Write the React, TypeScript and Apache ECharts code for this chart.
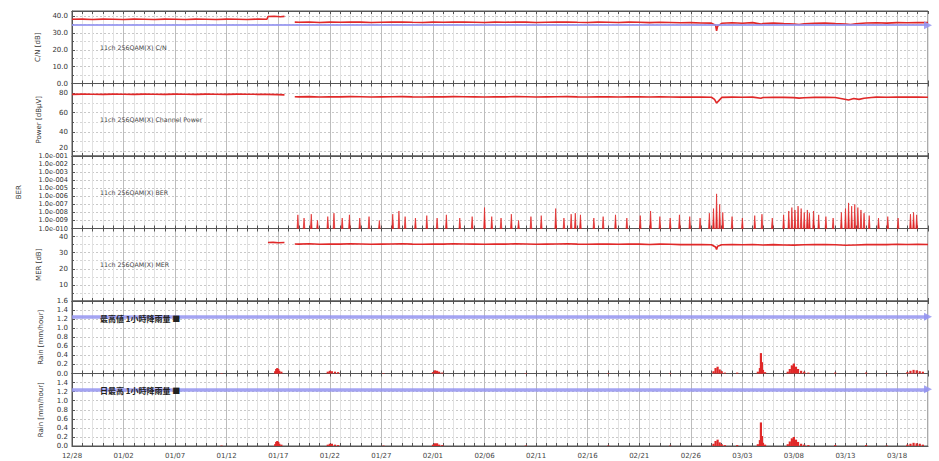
import React, { useEffect, useRef } from "react";
import * as echarts from "echarts";

// ---------- data ----------
const xTickLabels = ["12/28", "01/02", "01/07", "01/12", "01/17", "01/22", "01/27", "02/01", "02/06", "02/11", "02/16", "02/21", "02/26", "03/03", "03/08", "03/13", "03/18"];
const xMaxDay = 83;

const panelTitles = [
  "11ch 256QAM(X) C/N",
  "11ch 256QAM(X) Channel Power",
  "11ch 256QAM(X) BER",
  "11ch 256QAM(X) MER",
  "最高値 1小時降雨量 ■",
  "日最高 1小時降雨量 ■",
];
const yNames = ["C/N [dB]", "Power [dBµV]", "BER", "MER [dB]", "Rain [mm/hour]", "Rain [mm/hour]"];

const cnData: (number | string)[][] = [
  [0, 38.1], [1, 38.2], [2, 38.0], [3, 38.2], [4, 38.1], [5, 38.0], [6, 38.2], [7, 38.1], [8, 38.0], [9, 38.2],
  [10, 38.1], [11, 38.0], [12, 38.2], [13, 38.1], [14, 38.0], [15, 38.2], [16, 38.1], [17, 38.0], [18, 38.2], [18.9, 38.1],
  [19.0, 39.7], [19.6, 39.9], [20.2, 39.6], [20.6, 39.8], [20.7, "-"],
  [21.6, 36.4], [22, 36.3], [23, 36.5], [24, 36.2], [25, 36.4], [26, 36.3], [27, 36.5], [28, 36.4], [29, 36.2], [30, 36.3],
  [31, 36.4], [32, 36.5], [33, 36.3], [34, 36.2], [35, 36.4], [36, 36.3], [37, 36.5], [38, 36.4], [39, 36.3], [40, 36.2],
  [41, 36.4], [42, 36.3], [43, 36.5], [44, 36.4], [45, 36.2], [46, 36.3], [47, 36.4], [48, 36.5], [49, 36.3], [50, 36.2],
  [51, 36.4], [52, 36.3], [53, 36.2], [54, 36.4], [55, 36.3], [56, 36.1], [57, 36.3], [58, 36.2], [59, 36.0], [60, 36.1],
  [61, 35.9], [62, 35.8], [62.4, 34.6], [62.5, 31.2], [62.6, 34.0], [63, 35.7], [64, 36.0], [65, 35.7], [66, 36.1], [66.8, 35.2],
  [67, 35.6], [68, 35.8], [69, 35.5], [70, 35.3], [70.5, 35.0], [71, 35.4], [72, 35.7], [73, 35.8], [74, 35.5], [75, 35.3],
  [75.5, 35.0], [76, 35.4], [77, 35.9], [78, 36.0], [79, 35.8], [80, 36.1], [81, 36.0], [82, 36.2], [83, 36.1],
];
const cnThreshold = 34.6;

const powerData: (number | string)[][] = [
  [0, 78.8], [1, 79.0], [2, 78.9], [3, 78.8], [4, 79.0], [5, 78.9], [6, 78.8], [7, 79.0], [8, 78.9], [9, 78.8],
  [10, 79.0], [11, 78.9], [12, 78.8], [13, 79.0], [14, 78.9], [15, 78.8], [16, 79.0], [17, 78.9], [18, 78.8], [19, 78.7],
  [20, 78.5], [20.6, 78.2], [20.7, "-"],
  [21.6, 76.3], [22, 76.2], [23, 76.4], [24, 76.1], [25, 76.3], [26, 76.2], [27, 76.4], [28, 76.3], [29, 76.1], [30, 76.2],
  [31, 76.3], [32, 76.4], [33, 76.2], [34, 76.1], [35, 76.3], [36, 76.2], [37, 76.4], [38, 76.3], [39, 76.2], [40, 76.1],
  [41, 76.3], [42, 76.2], [43, 76.4], [44, 76.3], [45, 76.1], [46, 76.2], [47, 76.3], [48, 76.4], [49, 76.2], [50, 76.1],
  [51, 76.3], [52, 76.2], [53, 76.1], [54, 76.3], [55, 76.2], [56, 76.0], [57, 76.2], [58, 76.1], [59, 75.9], [60, 76.0],
  [61, 75.9], [62, 75.8], [62.3, 73.5], [62.5, 69.8], [62.7, 72.0], [63, 75.6], [64, 75.9], [65, 75.7], [66, 75.9], [66.8, 74.8],
  [67, 75.5], [68, 75.8], [69, 75.6], [70, 75.4], [70.5, 74.9], [71, 75.3], [72, 75.6], [73, 75.7], [74, 75.5], [74.8, 74.0],
  [75.3, 73.0], [75.8, 74.5], [76.3, 73.6], [76.8, 74.8], [77.5, 75.5], [78, 75.9], [79, 75.7], [80, 76.0], [81, 75.9], [82, 76.0], [83, 75.8],
];

const berTickLabels = ["1.0e-010", "1.0e-009", "1.0e-008", "1.0e-007", "1.0e-006", "1.0e-005", "1.0e-004", "1.0e-003", "1.0e-002", "1.0e-001"];
const berMinExp = -10;
const berMaxExp = -1;
const berSpikes: number[][] = [
  [21.9, 5e-9], [22.5, 2e-9], [23.2, 6e-9], [23.8, 1e-9], [24.8, 3e-9], [25.4, 8e-9], [26.2, 2e-9], [26.9, 5e-9], [27.9, 2e-9],
  [28.8, 3e-9], [29.8, 1e-9], [31.1, 6e-9], [31.7, 1.5e-8], [32.3, 3e-9], [33.3, 2e-9], [34.4, 4e-9], [35.4, 2e-9], [36.3, 5e-9],
  [37.6, 2e-9], [38.8, 3e-9], [40.0, 4e-8], [40.7, 3e-9], [41.6, 2e-9], [42.6, 6e-9], [43.3, 1e-9], [44.5, 3e-9], [45.5, 4e-9],
  [46.9, 3e-8], [47.7, 2e-9], [48.4, 6e-9], [48.8, 8e-9], [49.3, 5e-9], [50.6, 2e-9], [51.5, 3e-9], [52.7, 5e-9], [53.8, 2e-9],
  [55.1, 4e-9], [56.1, 1.5e-8], [57.0, 3e-9], [58.0, 2e-9], [58.9, 5e-9], [59.9, 3e-9], [60.9, 2e-9], [61.8, 8e-9], [62.2, 3e-8],
  [62.5, 2e-6], [62.8, 1e-7], [63.1, 1e-8], [64.0, 3e-9], [65.0, 2e-9], [66.2, 4e-9], [66.9, 6e-9], [67.9, 2e-9], [69.0, 5e-9],
  [69.5, 1.5e-8], [69.8, 4e-8], [70.1, 2e-8], [70.4, 6e-8], [70.7, 3e-8], [71.0, 1e-8], [71.3, 2e-8], [71.5, 8e-9], [71.9, 1.5e-8],
  [72.4, 5e-9], [73.1, 3e-9], [73.8, 2e-9], [74.6, 1e-8], [75.0, 3e-8], [75.3, 1.5e-7], [75.6, 6e-8], [75.9, 1e-7], [76.2, 4e-8],
  [76.5, 2e-8], [76.8, 8e-9], [77.3, 4e-9], [78.2, 2e-9], [79.1, 3e-9], [80.1, 2e-9], [81.3, 6e-9], [81.6, 1e-8], [81.9, 5e-9],
];

const merData: (number | string)[][] = [
  [19.0, 36.3], [19.5, 36.4], [20.0, 36.2], [20.6, 36.3], [20.7, "-"],
  [21.6, 35.4], [22, 35.3], [23, 35.5], [24, 35.2], [25, 35.4], [26, 35.3], [27, 35.5], [28, 35.4], [29, 35.2], [30, 35.3],
  [31, 35.4], [32, 35.5], [33, 35.3], [34, 35.2], [35, 35.4], [36, 35.3], [37, 35.5], [38, 35.4], [39, 35.3], [40, 35.2],
  [41, 35.4], [42, 35.3], [43, 35.5], [44, 35.4], [45, 35.2], [46, 35.3], [47, 35.4], [48, 35.5], [49, 35.3], [50, 35.2],
  [51, 35.4], [52, 35.3], [53, 35.2], [54, 35.4], [55, 35.3], [56, 35.1], [57, 35.3], [58, 35.2], [59, 35.0], [60, 35.1],
  [61, 35.0], [62, 34.9], [62.4, 33.5], [62.5, 32.0], [62.6, 34.0], [63, 34.9], [64, 35.1], [65, 34.9], [66, 35.1], [67, 34.8],
  [68, 35.0], [69, 34.8], [70, 34.7], [71, 34.9], [72, 35.0], [73, 35.1], [74, 34.9], [75, 34.6], [76, 34.8], [77, 35.0],
  [78, 35.1], [79, 35.0], [80, 35.2], [81, 35.1], [82, 35.2], [83, 35.1],
];

const rainThreshold = 1.25;
const rain1Data: number[][] = [
  [14.5, 0.01], [19.7, 0.05], [19.8, 0.1], [19.9, 0.12], [20.0, 0.1], [20.1, 0.06], [20.3, 0.04],
  [24.8, 0.04], [25.0, 0.06], [25.2, 0.05], [25.5, 0.04], [25.8, 0.03], [30.2, 0.01],
  [35.0, 0.03], [35.2, 0.07], [35.4, 0.06], [35.6, 0.04], [35.9, 0.02], [44.0, 0.01], [52.0, 0.01], [58.0, 0.01],
  [62.2, 0.05], [62.4, 0.12], [62.6, 0.15], [62.8, 0.09], [63.0, 0.05], [63.3, 0.02], [64.5, 0.02],
  [66.5, 0.04], [66.7, 0.12], [66.8, 0.45], [66.9, 0.25], [67.0, 0.08], [67.2, 0.03],
  [69.4, 0.04], [69.6, 0.1], [69.8, 0.18], [70.0, 0.22], [70.2, 0.15], [70.4, 0.1], [70.7, 0.06], [71.0, 0.04], [71.4, 0.02],
  [74.0, 0.02], [77.0, 0.02], [79.0, 0.01],
  [81.0, 0.03], [81.3, 0.06], [81.6, 0.08], [81.9, 0.07], [82.2, 0.05], [82.5, 0.04],
];
const rain2Data: number[][] = [
  [14.5, 0.01], [19.7, 0.04], [19.8, 0.09], [19.9, 0.11], [20.0, 0.09], [20.1, 0.05], [20.3, 0.03],
  [24.8, 0.03], [25.0, 0.05], [25.2, 0.05], [25.5, 0.03], [25.8, 0.02], [30.2, 0.01],
  [35.0, 0.03], [35.2, 0.06], [35.4, 0.06], [35.6, 0.03], [35.9, 0.02], [44.0, 0.01], [52.0, 0.01], [58.0, 0.01],
  [62.2, 0.05], [62.4, 0.11], [62.6, 0.14], [62.8, 0.08], [63.0, 0.04], [63.3, 0.02], [64.5, 0.02],
  [66.5, 0.04], [66.7, 0.13], [66.8, 0.52], [66.9, 0.22], [67.0, 0.07], [67.2, 0.03],
  [69.4, 0.04], [69.6, 0.1], [69.8, 0.17], [70.0, 0.2], [70.2, 0.14], [70.4, 0.09], [70.7, 0.05], [71.0, 0.03], [71.4, 0.02],
  [74.0, 0.02], [77.0, 0.02], [79.0, 0.01],
  [81.0, 0.03], [81.3, 0.05], [81.6, 0.07], [81.9, 0.06], [82.2, 0.05], [82.5, 0.03],
];

// ---------- layout / style ----------
const W = 939;
const H = 461;
const gridLeft = 72;
const gridRight = 11;
const gridTop0 = 11;
const panelH = 72.5;
const RED = "#e02828";
const BLUE = "#9494f0";
const AXIS = "#555";
const FONT = "DejaVu Sans";

export default function App() {
  const ref = useRef<HTMLDivElement>(null);

  useEffect(() => {
    if (!ref.current) return;
    const chart = echarts.init(ref.current, undefined, { renderer: "svg" });

    const grids = [0, 1, 2, 3, 4, 5].map((i) => ({
      left: gridLeft,
      right: gridRight,
      top: gridTop0 + i * panelH,
      height: panelH,
      show: true,
      borderColor: AXIS,
      borderWidth: 1,
    }));

    const xAxes: any[] = [];
    for (let i = 0; i < 6; i++) {
      xAxes.push({
        gridIndex: i,
        type: "value",
        min: 0,
        max: xMaxDay,
        interval: 1,
        position: "bottom",
        axisLine: { show: true, lineStyle: { color: AXIS, width: 1.2 } },
        axisTick: { show: true, inside: true, length: 3, lineStyle: { color: AXIS } },
        splitLine: {
          show: true,
          lineStyle: { color: ["#bdbdbd", "#e2e2e2", "#e2e2e2", "#e2e2e2", "#e2e2e2"], width: 1 },
        },
        axisLabel: {
          show: i === 5,
          fontSize: 7,
          fontFamily: FONT,
          color: "#444",
          margin: 6,
          showMaxLabel: false,
          formatter: (v: number) => (v % 5 === 0 && xTickLabels[v / 5] ? xTickLabels[v / 5] : ""),
        },
      });
      xAxes.push({
        gridIndex: i,
        type: "value",
        min: 0,
        max: xMaxDay,
        interval: 1,
        position: "top",
        axisLine: { show: true, lineStyle: { color: AXIS, width: 1.2 } },
        axisTick: { show: true, inside: true, length: 3, lineStyle: { color: AXIS } },
        splitLine: { show: false },
        axisLabel: { show: false },
      });
    }

    const lbl = (extra: any) => ({ fontSize: 7, fontFamily: FONT, color: "#333", margin: 4, ...extra });

    const yBase = (i: number, extra: any) => ({
      gridIndex: i,
      type: "value",
      name: yNames[i],
      nameLocation: "middle",
      nameGap: 30,
      nameTextStyle: { fontSize: 7, fontFamily: FONT, color: "#333" },
      axisLine: { show: true, lineStyle: { color: AXIS } },
      axisTick: { show: true, inside: true, length: 3, lineStyle: { color: AXIS } },
      splitLine: { show: true, lineStyle: { color: "#c8c8c8", type: [2, 2] } },
      axisLabel: lbl({}),
      ...extra,
    });

    const yAxes = [
      yBase(0, {
        min: 0, max: 43, interval: 10,
        axisLabel: lbl({ showMaxLabel: false, formatter: (v: number) => v.toFixed(1) }),
        minorTick: { show: true, splitNumber: 2, length: 2 },
        minorSplitLine: { show: true, lineStyle: { color: "#d6d6d6", type: [2, 2] } },
      }),
      yBase(1, {
        min: 15, max: 90, splitNumber: 4,
        axisLabel: lbl({
          showMaxLabel: false,
          showMinLabel: false,
          formatter: (v: number) => (v === 20 ? "{up|20}" : String(v)),
          rich: { up: { fontSize: 7, fontFamily: FONT, color: "#333", padding: [0, 0, 7, 0] } },
        }),
        minorTick: { show: true, splitNumber: 2, length: 2 },
        minorSplitLine: { show: true, lineStyle: { color: "#d6d6d6", type: [2, 2] } },
      }),
      yBase(2, {
        min: berMinExp, max: berMaxExp, interval: 1, nameGap: 50,
        axisLabel: lbl({
          fontSize: 6.6,
          showMaxLabel: true,
          showMinLabel: true,
          formatter: (v: number) => berTickLabels[Math.round(v) - berMinExp],
        }),
      }),
      yBase(3, {
        min: 0, max: 45, interval: 10,
        axisLabel: lbl({ showMaxLabel: false, showMinLabel: false }),
        minorTick: { show: true, splitNumber: 2, length: 2 },
        minorSplitLine: { show: true, lineStyle: { color: "#d6d6d6", type: [2, 2] } },
      }),
      yBase(4, {
        min: 0, max: 1.6, interval: 0.2, nameGap: 28,
        axisLabel: lbl({ showMaxLabel: true, formatter: (v: number) => v.toFixed(1) }),
      }),
      yBase(5, {
        min: 0, max: 1.6, interval: 0.2, nameGap: 28,
        axisLabel: lbl({ showMaxLabel: false, formatter: (v: number) => v.toFixed(1) }),
      }),
    ];

    const threshold = (value: number, width: number) => ({
      silent: true,
      symbol: ["none", "triangle"],
      symbolSize: 8,
      label: { show: false },
      lineStyle: { color: BLUE, width, type: "solid", opacity: 0.85 },
      itemStyle: { color: BLUE },
      data: [{ yAxis: value }],
    });

    const lineSeries = (idx: number, data: any[], extra: any = {}) => ({
      type: "line",
      xAxisIndex: idx * 2,
      yAxisIndex: idx,
      data,
      showSymbol: false,
      symbol: "none",
      connectNulls: false,
      lineStyle: { color: RED, width: 1.6 },
      itemStyle: { color: RED },
      z: 3,
      ...extra,
    });

    const series: any[] = [
      lineSeries(0, cnData, { markLine: threshold(cnThreshold, 1.8) }),
      lineSeries(1, powerData),
      {
        type: "custom",
        xAxisIndex: 4,
        yAxisIndex: 2,
        data: berSpikes.map(([d, b]) => [d, Math.log10(b)]),
        encode: { x: 0, y: 1 },
        renderItem: (_params: any, api: any) => {
          const x = api.value(0);
          const top = api.coord([x, api.value(1)]);
          const bot = api.coord([x, berMinExp]);
          return {
            type: "polygon",
            shape: { points: [[bot[0] - 0.8, bot[1]], [top[0], top[1]], [bot[0] + 0.8, bot[1]]] },
            style: { fill: RED, stroke: RED, lineWidth: 0.7 },
          };
        },
        z: 3,
      },
      lineSeries(3, merData),
      {
        type: "bar",
        xAxisIndex: 8,
        yAxisIndex: 4,
        data: rain1Data,
        barWidth: 2.2,
        itemStyle: { color: RED },
        markLine: threshold(rainThreshold, 3.5),
        z: 3,
      },
      {
        type: "bar",
        xAxisIndex: 10,
        yAxisIndex: 5,
        data: rain2Data,
        barWidth: 2.2,
        itemStyle: { color: RED },
        markLine: threshold(rainThreshold, 3.5),
        z: 3,
      },
    ];

    const graphics = panelTitles.map((t, i) => ({
      type: "text",
      x: 100,
      y: gridTop0 + i * panelH + (i >= 4 ? 17 : 36),
      style: {
        text: t,
        fill: i >= 4 ? "#222" : "#444",
        fontSize: i >= 4 ? 8 : 6.3,
        fontWeight: i >= 4 ? "bold" : "normal",
        fontFamily: i >= 4 ? "Noto Sans CJK JP" : FONT,
        verticalAlign: "middle",
      },
      z: 10,
    }));

    chart.setOption({
      animation: false,
      backgroundColor: "#fff",
      grid: grids,
      xAxis: xAxes,
      yAxis: yAxes,
      series,
      graphic: graphics,
    });

    return () => chart.dispose();
  }, []);

  return (
    <div
      ref={ref}
      style={{ position: "absolute", left: 0, top: 0, width: W, height: H, background: "#fff" }}
    />
  );
}
